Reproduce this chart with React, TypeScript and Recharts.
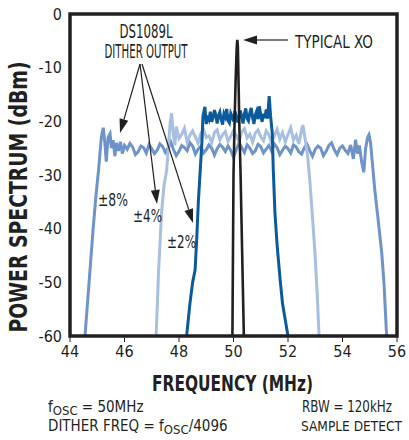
import { LineChart, Line, XAxis, YAxis } from 'recharts'

const FREQ_TICKS = [44, 46, 48, 50, 52, 54, 56]
const DBM_TICKS = [0, -10, -20, -30, -40, -50, -60]

// [MHz, dBm]
const DITHER_8 = [
  [44.55, -60], [44.7, -50], [44.85, -40], [44.95, -34], [45.05, -29], [45.15, -23], [45.22, -21.2],
  [45.28, -24], [45.33, -27.5], [45.4, -23], [45.47, -22.3], [45.52, -25], [45.58, -23.5], [45.65, -26.5],
  [45.7, -24], [45.78, -25.5], [45.85, -23.8], [45.92, -26], [46.0, -24.5], [46.1, -25.2], [46.2, -24.1],
  [46.3, -24.8], [46.4, -26.2], [46.5, -25.7], [46.6, -24.6], [46.7, -24.9], [46.8, -25.9], [46.9, -24.3],
  [47.0, -25.1], [47.1, -26.0], [47.2, -25.4], [47.3, -24.2], [47.4, -24.7], [47.5, -25.8], [47.6, -25.0],
  [47.7, -23.9], [47.8, -25.3], [47.9, -26.4], [48.0, -25.6], [48.1, -24.5], [48.2, -24.9], [48.3, -25.5],
  [48.4, -24.0], [48.5, -24.6], [48.6, -26.1], [48.7, -25.2], [48.8, -24.7], [48.9, -25.9], [49.0, -25.3],
  [49.1, -24.4], [49.2, -25.0], [49.3, -26.3], [49.4, -25.1], [49.5, -24.3], [49.6, -24.8], [49.7, -25.6],
  [49.8, -24.6], [49.9, -25.4], [50.0, -26.7], [50.1, -25.3], [50.2, -24.1], [50.3, -24.9], [50.4, -25.8],
  [50.5, -24.4], [50.6, -25.0], [50.7, -26.0], [50.8, -25.5], [50.9, -24.3], [51.0, -24.7], [51.1, -25.9],
  [51.2, -25.2], [51.3, -24.5], [51.4, -25.6], [51.5, -24.2], [51.6, -24.9], [51.7, -26.2], [51.8, -25.4],
  [51.9, -24.6], [52.0, -25.1], [52.1, -25.9], [52.2, -24.4], [52.3, -24.8], [52.4, -25.7], [52.5, -26.1],
  [52.6, -24.9], [52.7, -24.3], [52.8, -25.5], [52.9, -26.5], [53.0, -25.2], [53.1, -24.6], [53.2, -25.0],
  [53.3, -26.4], [53.4, -25.6], [53.5, -24.5], [53.6, -24.0], [53.7, -25.3], [53.8, -26.2], [53.9, -25.0],
  [54.0, -24.6], [54.1, -25.4], [54.2, -26.0], [54.3, -24.4], [54.4, -27], [54.48, -23.4], [54.55, -26],
  [54.62, -24.5], [54.7, -27.5], [54.78, -29.5], [54.85, -25], [54.92, -23], [54.97, -22.5], [55.03, -24],
  [55.1, -28], [55.19, -33], [55.3, -38], [55.44, -44.5], [55.52, -50], [55.62, -60],
]

const DITHER_4 = [
  [47.16, -60], [47.25, -48], [47.36, -37], [47.45, -32], [47.55, -29], [47.62, -24], [47.68, -20],
  [47.73, -18.5], [47.78, -22], [47.85, -24.5], [47.9, -21], [48.0, -23.2], [48.1, -22.4], [48.2, -21.3],
  [48.3, -23.9], [48.4, -22.6], [48.5, -21.8], [48.6, -22.9], [48.7, -24.1], [48.8, -22.3], [48.9, -21.5],
  [49.0, -23.0], [49.1, -22.7], [49.2, -24.0], [49.3, -22.1], [49.4, -21.6], [49.5, -23.4], [49.6, -22.5],
  [49.7, -21.9], [49.8, -23.7], [49.9, -22.8], [50.0, -21.7], [50.1, -22.6], [50.2, -23.8], [50.3, -22.0],
  [50.4, -21.4], [50.5, -23.1], [50.6, -22.4], [50.7, -23.9], [50.8, -22.2], [50.9, -21.6], [51.0, -22.9],
  [51.1, -23.6], [51.2, -21.8], [51.3, -22.5], [51.4, -24.0], [51.5, -22.7], [51.6, -21.5], [51.7, -23.3],
  [51.8, -22.1], [51.9, -23.8], [52.0, -22.4], [52.1, -21.2], [52.2, -23.5], [52.3, -22.6], [52.4, -24.2],
  [52.5, -21.5], [52.55, -20.7], [52.62, -23], [52.68, -25], [52.73, -27], [52.8, -31], [52.9, -38],
  [52.99, -44.5], [53.07, -52], [53.14, -60],
]

const DITHER_2 = [
  [48.28, -60], [48.32, -58], [48.4, -54], [48.5, -50], [48.59, -47.7], [48.65, -42], [48.71, -35],
  [48.78, -29], [48.84, -24], [48.88, -19], [48.95, -17.3], [49.0, -20.5], [49.05, -18.9], [49.1, -19.6],
  [49.15, -18.2], [49.2, -20.1], [49.25, -19.3], [49.3, -17.9], [49.35, -18.8], [49.4, -20.4], [49.45, -19.0],
  [49.5, -18.3], [49.55, -19.7], [49.6, -20.6], [49.65, -18.6], [49.7, -19.2], [49.75, -17.7], [49.8, -19.9],
  [49.85, -20.3], [49.9, -18.5], [49.95, -19.1], [50.0, -20.0], [50.05, -18.1], [50.1, -18.9], [50.15, -20.2],
  [50.2, -19.4], [50.25, -18.0], [50.3, -19.0], [50.35, -20.4], [50.4, -18.7], [50.45, -17.6], [50.5, -19.5],
  [50.55, -19.9], [50.6, -18.4], [50.65, -17.5], [50.7, -19.3], [50.75, -20.5], [50.8, -18.8], [50.85, -18.1],
  [50.9, -19.6], [50.95, -17.2], [51.0, -18.9], [51.05, -20.1], [51.1, -18.6], [51.15, -19.4], [51.2, -17.8],
  [51.25, -19.5], [51.31, -15.3], [51.36, -19], [51.42, -22], [51.46, -29], [51.52, -37], [51.6, -43],
  [51.7, -48.9], [51.8, -54], [51.9, -57], [52.0, -60],
]

const TYPICAL_XO = [
  [49.96, -60], [49.98, -45], [50.0, -30], [50.04, -20], [50.08, -12], [50.12, -6], [50.14, -4.8],
  [50.16, -6], [50.19, -14], [50.22, -22], [50.26, -30], [50.32, -45], [50.38, -60],
]

const toRows = (pts: number[][]) => pts.map(([f, db]) => ({ f, db }))

const FONT = '"Liberation Sans Narrow", "DejaVu Sans Condensed", "Roboto Condensed", sans-serif'
const INK = '#231f20'

const Arrow = ({ x1, y1, x2, y2 }: { x1: number; y1: number; x2: number; y2: number }) => {
  const a = Math.atan2(y2 - y1, x2 - x1)
  const L = 14
  const W = 4.5
  const bx = x2 - L * Math.cos(a)
  const by = y2 - L * Math.sin(a)
  const px = -Math.sin(a) * W
  const py = Math.cos(a) * W
  return (
    <g>
      <line x1={x1} y1={y1} x2={bx} y2={by} stroke={INK} strokeWidth={1.2} />
      <polygon points={`${x2},${y2} ${bx + px},${by + py} ${bx - px},${by - py}`} fill={INK} />
    </g>
  )
}

export default function App() {
  return (
    <div style={{ position: 'absolute', left: 0, top: 0, width: 409, height: 440, background: '#fff' }}>
      <LineChart width={409} height={440} margin={{ top: 14, right: 12, bottom: 74, left: 10 }}>
        <XAxis
          type="number"
          dataKey="f"
          domain={[44, 56]}
          ticks={FREQ_TICKS}
          allowDataOverflow
          height={30}
          axisLine={false}
          tickLine={{ stroke: INK, strokeWidth: 1 }}
          tickSize={6}
          tickMargin={4}
          tick={{ fontFamily: FONT, fontSize: 16, fill: INK }}
        />
        <YAxis
          type="number"
          dataKey="db"
          domain={[-60, 0]}
          ticks={DBM_TICKS}
          allowDataOverflow
          width={60}
          axisLine={false}
          tickLine={false}
          tickSize={6}
          tickMargin={2}
          tick={{ fontFamily: FONT, fontSize: 16, fill: INK }}
        />
        <Line data={toRows(DITHER_8)} dataKey="db" stroke="#6d93c9" strokeWidth={3} dot={false} isAnimationActive={false} />
        <Line data={toRows(DITHER_4)} dataKey="db" stroke="#a6bfe2" strokeWidth={3} dot={false} isAnimationActive={false} />
        <Line data={toRows(DITHER_2)} dataKey="db" stroke="#0b5a9c" strokeWidth={3} dot={false} isAnimationActive={false} />
        <Line data={toRows(TYPICAL_XO)} dataKey="db" stroke={INK} strokeWidth={2.6} dot={false} isAnimationActive={false} />
      </LineChart>
      <svg width={409} height={440} style={{ position: 'absolute', left: 0, top: 0, pointerEvents: 'none' }}>
        <rect x={70} y={14} width={327} height={322} fill="none" stroke={INK} strokeWidth={3.5} />
        <g fontFamily={FONT} fill={INK}>
          <text x={27} y={197} transform="rotate(-90 27 197)" textAnchor="middle" fontSize={24} fontWeight="bold" textLength={271} lengthAdjust="spacingAndGlyphs">
            POWER SPECTRUM (dBm)
          </text>
          <text x={232.5} y={391} textAnchor="middle" fontSize={21} fontWeight="bold" textLength={161} lengthAdjust="spacingAndGlyphs">
            FREQUENCY (MHz)
          </text>
          <text x={146} y={38} textAnchor="middle" fontSize={19} textLength={53} lengthAdjust="spacingAndGlyphs">DS1089L</text>
          <text x={146} y={58} textAnchor="middle" fontSize={19} textLength={83} lengthAdjust="spacingAndGlyphs">DITHER OUTPUT</text>
          <text x={295} y={48} fontSize={18} textLength={78} lengthAdjust="spacingAndGlyphs">TYPICAL XO</text>
          <text x={98} y={206} fontSize={18} textLength={30} lengthAdjust="spacingAndGlyphs">±8%</text>
          <text x={133} y={222} fontSize={18} textLength={29} lengthAdjust="spacingAndGlyphs">±4%</text>
          <text x={167} y={248} fontSize={18} textLength={29} lengthAdjust="spacingAndGlyphs">±2%</text>
          <text x={48} y={412} fontSize={15}>
            f<tspan fontSize={13} dy={3}>OSC</tspan>
            <tspan dy={-3}> = 50MHz</tspan>
          </text>
          <text x={48} y={431} fontSize={15}>
            DITHER FREQ = f<tspan fontSize={13} dy={3}>OSC</tspan>
            <tspan dy={-3}>/4096</tspan>
          </text>
          <text x={302} y={412} fontSize={15} textLength={90} lengthAdjust="spacingAndGlyphs">RBW = 120kHz</text>
          <text x={301} y={431} fontSize={14.3} textLength={101} lengthAdjust="spacingAndGlyphs">SAMPLE DETECT</text>
        </g>
        <Arrow x1={288} y1={40} x2={243} y2={40} />
        <Arrow x1={140} y1={64} x2={120} y2={133} />
        <Arrow x1={140} y1={64} x2={157} y2={204} />
        <Arrow x1={142} y1={64} x2={193} y2={223} />
      </svg>
    </div>
  )
}
